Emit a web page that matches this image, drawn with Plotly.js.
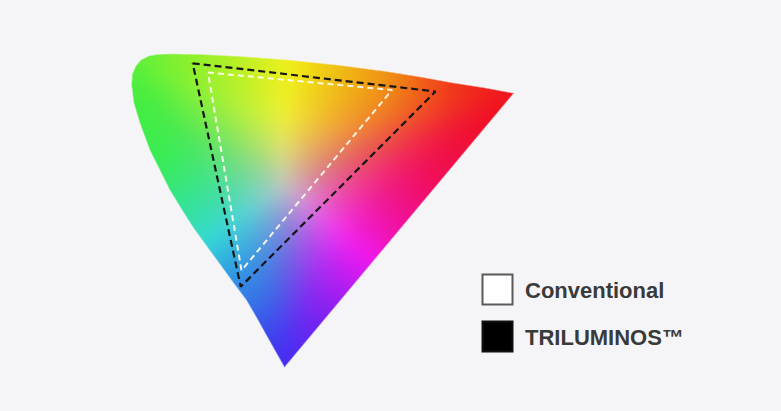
<!DOCTYPE html>
<html><head><meta charset="utf-8">
<script src="https://cdn.plot.ly/plotly-3.0.1.min.js"></script>
<style>html,body{margin:0;padding:0;background:#f5f5f7;overflow:hidden}#chart{width:781px;height:411px}</style>
</head><body><div id="chart"></div>
<script>
// ---- data (diagram coordinates) ----
const gamutX = [284.5, 276, 267, 257, 246.5, 233, 220, 206, 193, 181, 170, 160, 150, 140, 134, 131.7, 132.5, 136, 141, 149, 158, 170, 200, 240, 287, 340, 387, 420, 453, 485, 513.5];
const gamutY = [367, 352, 336, 318, 300, 282, 264, 245, 227, 208, 190, 170, 150, 123, 103, 85, 74, 66, 60, 56, 54.5, 54, 54.5, 56.5, 60, 65.5, 71.7, 77, 83, 88, 93.3];
const triluminosX = [192.7, 435.5, 240.7];
const triluminosY = [63.3, 91.5, 286.7];
const conventionalX = [208, 392, 241.5];
const conventionalY = [72.5, 90, 270.5];
const legendLabels = ['Conventional', 'TRILUMINOS™'];
const legendFills = ['#ffffff', '#000000'];

// ---- colour styling of the gamut fill ----
const whitePoint = [265, 222];
const hueStops = [
  [0, '#ea1e98'], [13, '#ee1a60'], [22, '#ee1a3a'], [26.5, '#ee1c26'], [36, '#f03e26'],
  [50, '#f59a22'], [74, '#f0dc24'], [97, '#bce832'], [118, '#80e238'], [136, '#4adc44'],
  [150, '#40de54'], [166, '#3cd688'], [198, '#3cc4c0'], [233, '#3ca8e6'], [260, '#4480f2'],
  [276, '#4a3af0'], [292, '#6e32f2'], [310, '#9a2cf0'], [340, '#d624d6'], [360, '#ea1e98']
];
function hex(c){return [parseInt(c.slice(1,3),16),parseInt(c.slice(3,5),16),parseInt(c.slice(5,7),16)];}
const stops = hueStops.map(s=>[s[0],hex(s[1])]);
function edgeColor(a){
  for(let i=0;i<stops.length-1;i++){
    if(a>=stops[i][0] && a<=stops[i+1][0]){
      const t=(a-stops[i][0])/(stops[i+1][0]-stops[i][0]);
      return [0,1,2].map(k=>stops[i][1][k]+(stops[i+1][1][k]-stops[i][1][k])*t);
    }
  }
  return stops[0][1];
}
const n = gamutX.length;
const samp=[];
for(let i=0;i<n;i++){
  const j=(i+1)%n;
  const L=Math.hypot(gamutX[j]-gamutX[i], gamutY[j]-gamutY[i]);
  const m=Math.max(1,Math.round(L/2.5));
  for(let k=0;k<m;k++){
    const sx=gamutX[i]+(gamutX[j]-gamutX[i])*k/m, sy=gamutY[i]+(gamutY[j]-gamutY[i])*k/m;
    let a=Math.atan2(whitePoint[1]-sy, sx-whitePoint[0])*180/Math.PI; if(a<0)a+=360;
    const c=edgeColor(a);
    samp.push([sx,sy,c[0],c[1],c[2]]);
  }
}
function inside(px,py){
  let c=false;
  for(let i=0,j=n-1;i<n;j=i++){
    if(((gamutY[i]>py)!==(gamutY[j]>py)) && (px < (gamutX[j]-gamutX[i])*(py-gamutY[i])/(gamutY[j]-gamutY[i])+gamutX[i])) c=!c;
  }
  return c;
}
function segDist(px,py){
  let m=1e9;
  for(let i=0;i<n;i++){
    const j=(i+1)%n;
    const ex=gamutX[j]-gamutX[i], ey=gamutY[j]-gamutY[i];
    let t=((px-gamutX[i])*ex+(py-gamutY[i])*ey)/(ex*ex+ey*ey);
    t=Math.max(0,Math.min(1,t));
    const qx=gamutX[i]+t*ex-px, qy=gamutY[i]+t*ey-py;
    const d=Math.sqrt(qx*qx+qy*qy); if(d<m) m=d;
  }
  return m;
}
const X0=Math.floor(Math.min(...gamutX))-3, X1=Math.ceil(Math.max(...gamutX))+3;
const Y0=Math.floor(Math.min(...gamutY))-3, Y1=Math.ceil(Math.max(...gamutY))+3;
const Wd=X1-X0, Hd=Y1-Y0, NS=samp.length;
const R=new Float32Array(Wd*Hd), G=new Float32Array(Wd*Hd), B=new Float32Array(Wd*Hd), A=new Float32Array(Wd*Hd);
for(let y=0;y<Hd;y++){
  const py=Y0+y+0.5;
  for(let x=0;x<Wd;x++){
    const px=X0+x+0.5, idx=y*Wd+x;
    const d=segDist(px,py);
    const sd = inside(px,py)? d : -d;
    A[idx]=Math.max(0,Math.min(1,0.5+sd/1.5));
    let W=0,r=0,g=0,b=0;
    for(let s=0;s<NS;s++){
      const q=samp[s]; const ddx=q[0]-px, ddy=q[1]-py;
      const d2=ddx*ddx+ddy*ddy+4;
      const w=1/(d2*Math.sqrt(d2));
      W+=w; r+=w*q[2]; g+=w*q[3]; b+=w*q[4];
    }
    r/=W; g/=W; b/=W;
    const mean=(r+g+b)/3, boost=1.12;
    r=Math.max(0,mean+(r-mean)*boost); g=Math.max(0,mean+(g-mean)*boost); b=Math.max(0,mean+(b-mean)*boost);
    const mx=Math.max(r,g,b), mn=Math.min(r,g,b);
    const sat=(mx-mn)/mx;
    let V=196+44*Math.min(1,sat*1.3);
    // cyan tones are a little deeper in the picture
    const cy=Math.max(0,(Math.min(g,b)-r)/mx);
    V*=1-0.13*cy;
    const k=V/mx;
    R[idx]=Math.min(255,r*k); G[idx]=Math.min(255,g*k); B[idx]=Math.min(255,b*k);
  }
}
function blur(ch,rad){
  const tmp=new Float32Array(ch.length);
  for(let y=0;y<Hd;y++){for(let x=0;x<Wd;x++){let s=0,c=0;for(let k=-rad;k<=rad;k++){const xx=x+k;if(xx>=0&&xx<Wd){s+=ch[y*Wd+xx];c++;}}tmp[y*Wd+x]=s/c;}}
  for(let y=0;y<Hd;y++){for(let x=0;x<Wd;x++){let s=0,c=0;for(let k=-rad;k<=rad;k++){const yy=y+k;if(yy>=0&&yy<Hd){s+=tmp[yy*Wd+x];c++;}}ch[y*Wd+x]=s/c;}}
}
[R,G,B].forEach(ch=>{blur(ch,7);blur(ch,7);blur(ch,6);});
const z=[];
for(let y=0;y<Hd;y++){
  const row=[];
  for(let x=0;x<Wd;x++){
    const i=y*Wd+x;
    row.push(A[i]>0?[Math.round(R[i]),Math.round(G[i]),Math.round(B[i]),A[i]]:[0,0,0,0]);
  }
  z.push(row);
}

const traces=[
  {type:'image', z:z, colormodel:'rgba', x0:X0+0.5, y0:Y0+0.5, dx:1, dy:1, hoverinfo:'skip'},
  {type:'scatter', mode:'lines', x:conventionalX.concat([conventionalX[0]]), y:conventionalY.concat([conventionalY[0]]),
   line:{color:'rgba(255,252,238,0.92)', width:2, dash:'6px,4px'}, hoverinfo:'skip'},
  {type:'scatter', mode:'lines', x:triluminosX.concat([triluminosX[0]]), y:triluminosY.concat([triluminosY[0]]),
   line:{color:'#161616', width:2.2, dash:'7px,4px'}, hoverinfo:'skip'}
];
const boxY=[289.5, 336.5];
const shapes=legendFills.map((c,i)=>({type:'rect', xref:'x', yref:'y', x0:482.5, x1:512.5, y0:boxY[i]-15, y1:boxY[i]+15,
  fillcolor:c, line:{color: i===0?'#5a5a5a':'#111', width:2}}));
const annotations=legendLabels.map((s,i)=>({xref:'x', yref:'y', x:523, y:boxY[i]+0.5, xanchor:'left', yanchor:'middle',
  text:'<b>'+s+'</b>', showarrow:false, font:{family:'Liberation Sans, Arial, sans-serif', size:22, color:'#3a3a3a'}}));
const layout={
  width:781, height:411, margin:{l:0,r:0,t:0,b:0},
  paper_bgcolor:'#f5f5f7', plot_bgcolor:'#f5f5f7', showlegend:false,
  xaxis:{range:[0,781], visible:false, fixedrange:true},
  yaxis:{range:[411,0], autorange:false, visible:false, fixedrange:true},
  shapes:shapes, annotations:annotations
};
Plotly.newPlot('chart', traces, layout, {staticPlot:true, displayModeBar:false});
</script></body></html>
